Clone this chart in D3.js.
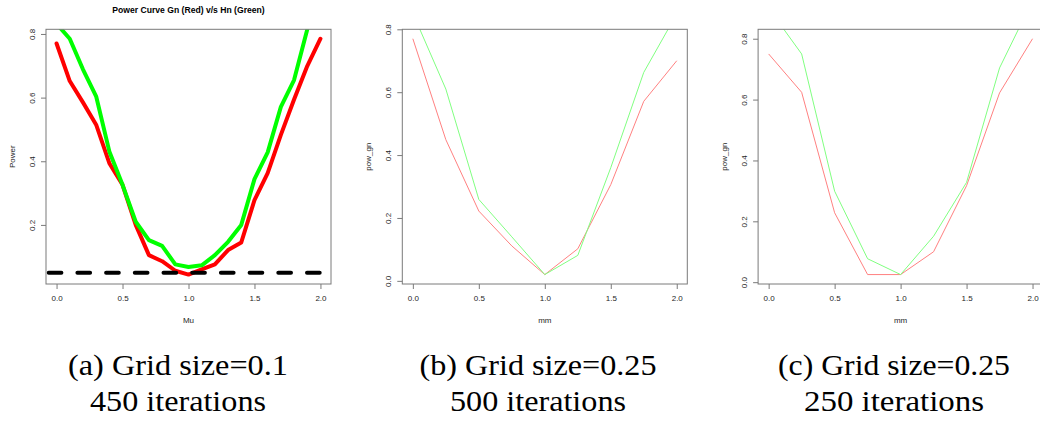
<!DOCTYPE html>
<html>
<head>
<meta charset="utf-8">
<script src="https://cdn.jsdelivr.net/npm/d3@7"></script>
<style>
  html, body { margin: 0; padding: 0; background: #fff; }
  svg { display: block; }
</style>
</head>
<body>
<svg id="chart" width="1040" height="422"></svg>
<script>
// ---------- data ----------
// Panel (a): grid size 0.1, 450 iterations
const muA = [0.0, 0.1, 0.2, 0.3, 0.4, 0.5, 0.6, 0.7, 0.8, 0.9, 1.0, 1.1, 1.2, 1.3, 1.4, 1.5, 1.6, 1.7, 1.8, 1.9, 2.0];
const powerGnA = [0.770, 0.652, 0.585, 0.515, 0.394, 0.326, 0.200, 0.105, 0.086, 0.056, 0.044, 0.060, 0.076, 0.121, 0.145, 0.278, 0.363, 0.483, 0.594, 0.699, 0.785];
const powerHnA = [0.832, 0.785, 0.689, 0.604, 0.431, 0.326, 0.210, 0.152, 0.134, 0.076, 0.068, 0.073, 0.105, 0.147, 0.200, 0.344, 0.428, 0.571, 0.655, 0.814, 0.980];
const alphaLevel = 0.05;

// Panel (b): grid size 0.25, 500 iterations
const mmB = [0.0, 0.25, 0.5, 0.75, 1.0, 1.25, 1.5, 1.75, 2.0];
const powGnB = [0.770, 0.449, 0.222, 0.111, 0.020, 0.102, 0.306, 0.571, 0.700];
const powHnB = [0.851, 0.610, 0.259, 0.140, 0.020, 0.081, 0.360, 0.663, 0.849];

// Panel (c): grid size 0.25, 250 iterations
const mmC = [0.0, 0.25, 0.5, 0.75, 1.0, 1.25, 1.5, 1.75, 2.0];
const powGnC = [0.750, 0.624, 0.228, 0.025, 0.025, 0.100, 0.317, 0.622, 0.800];
const powHnC = [0.900, 0.750, 0.299, 0.077, 0.025, 0.151, 0.328, 0.704, 0.926];

// ticks and labels
const xTicks = [0.0, 0.5, 1.0, 1.5, 2.0];
const yTicksA = [0.2, 0.4, 0.6, 0.8];
const yTicksBC = [0.0, 0.2, 0.4, 0.6, 0.8];
const titles = ["Power Curve Gn (Red) v/s Hn (Green)", "", ""];
const xLabels = ["Mu", "mm", "mm"];
const yLabels = ["Power", "pow_gn", "pow_gn"];
const captionLine1 = ["(a) Grid size=0.1", "(b) Grid size=0.25", "(c) Grid size=0.25"];
const captionLine2 = ["450 iterations", "500 iterations", "250 iterations"];

// ---------- layout / style ----------
const svg = d3.select("#chart");
const boxW = 285, boxTop = 29.3, boxBottom = 284;
const panelLefts = [46, 402.3, 758.1];
const captionCenters = [178, 538, 894];
const caption1Widths = [220, 237, 232];
const caption2Widths = [176, 176, 180];
const axisGray = "#7a7a7a";
const textCol = "#262626";
const sans = "'Liberation Sans', Arial, Helvetica, sans-serif";
const serif = "'Liberation Serif', 'Times New Roman', serif";

// R-style axis range: data extent padded 4% on each side
function rRange(vals) {
  const [lo, hi] = d3.extent(vals);
  const p = (hi - lo) * 0.04;
  return [lo - p, hi + p];
}

const panels = [
  { x: muA, gn: powerGnA, hn: powerHnA, yTicks: yTicksA, thick: true },
  { x: mmB, gn: powGnB, hn: powHnB, yTicks: yTicksBC, thick: false },
  { x: mmC, gn: powGnC, hn: powHnC, yTicks: yTicksBC, thick: false }
];

panels.forEach((p, i) => {
  const left = panelLefts[i];
  const xs = d3.scaleLinear().domain(rRange(p.x)).range([left, left + boxW]);
  const ys = d3.scaleLinear().domain(rRange(p.gn)).range([boxBottom, boxTop]);
  const g = svg.append("g");

  // clip path to plot region
  const clipId = "clip" + i;
  svg.append("clipPath").attr("id", clipId)
    .append("rect").attr("x", left).attr("y", boxTop)
    .attr("width", boxW).attr("height", boxBottom - boxTop);

  const line = d3.line().x((d, k) => xs(p.x[k])).y(d => ys(d));
  const plot = g.append("g").attr("clip-path", `url(#${clipId})`);

  if (p.thick) {
    plot.append("path").datum(p.gn).attr("d", line)
      .attr("fill", "none").attr("stroke", "#ff0000").attr("stroke-width", 4)
      .attr("stroke-linejoin", "round").attr("stroke-linecap", "round");
    plot.append("path").datum(p.hn).attr("d", line)
      .attr("fill", "none").attr("stroke", "#00ff00").attr("stroke-width", 4)
      .attr("stroke-linejoin", "round").attr("stroke-linecap", "round");
    // dashed alpha level line
    plot.append("line")
      .attr("x1", xs.range()[0] + 2.7).attr("x2", xs.range()[1])
      .attr("y1", ys(alphaLevel)).attr("y2", ys(alphaLevel))
      .attr("stroke", "#000").attr("stroke-width", 4)
      .attr("stroke-linecap", "round").attr("stroke-dasharray", "12.7,16");
  } else {
    plot.append("path").datum(p.gn).attr("d", line)
      .attr("fill", "none").attr("stroke", "#ff8080").attr("stroke-width", 1)
      .attr("stroke-linejoin", "round");
    plot.append("path").datum(p.hn).attr("d", line)
      .attr("fill", "none").attr("stroke", "#80ff80").attr("stroke-width", 1)
      .attr("stroke-linejoin", "round");
  }

  // box
  g.append("rect").attr("x", left).attr("y", boxTop)
    .attr("width", boxW).attr("height", boxBottom - boxTop)
    .attr("fill", "none").attr("stroke", axisGray).attr("stroke-width", 1);

  // x axis
  const xAxis = g.append("g").attr("transform", `translate(0,${boxBottom})`)
    .call(d3.axisBottom(xs).tickValues(xTicks).tickFormat(d3.format(".1f"))
      .tickSize(5).tickPadding(6));
  xAxis.select(".domain").remove();
  xAxis.selectAll(".tick line").attr("stroke", axisGray);
  xAxis.selectAll(".tick text").attr("fill", textCol)
    .style("font-family", sans).style("font-size", "8px");

  // y axis
  const yAxis = g.append("g").attr("transform", `translate(${left},0)`)
    .call(d3.axisLeft(ys).tickValues(p.yTicks).tickFormat(d3.format(".1f"))
      .tickSize(5).tickPadding(0));
  yAxis.select(".domain").remove();
  yAxis.selectAll(".tick line").attr("stroke", axisGray);
  yAxis.selectAll(".tick text")
    .attr("x", null).attr("dy", null)
    .attr("transform", "translate(-13.7,0) rotate(-90)")
    .attr("text-anchor", "middle").attr("dominant-baseline", "central")
    .attr("fill", textCol)
    .style("font-family", sans).style("font-size", "8px");

  // axis titles
  g.append("text").attr("x", left + boxW / 2).attr("y", 323)
    .attr("text-anchor", "middle").attr("fill", textCol)
    .style("font-family", sans).style("font-size", "8px").text(xLabels[i]);
  g.append("text")
    .attr("transform", `translate(${left - 34},${(boxTop + boxBottom) / 2}) rotate(-90)`)
    .attr("text-anchor", "middle").attr("dominant-baseline", "central")
    .attr("fill", textCol)
    .style("font-family", sans).style("font-size", "8px").text(yLabels[i]);

  if (titles[i]) {
    g.append("text").attr("x", left + boxW / 2).attr("y", 13)
      .attr("text-anchor", "middle").attr("fill", "#000")
      .style("font-family", sans).style("font-size", "8.6px").style("font-weight", "bold")
      .text(titles[i]);
  }

  // captions
  svg.append("text").attr("x", captionCenters[i]).attr("y", 375)
    .attr("text-anchor", "middle").attr("fill", "#000")
    .attr("textLength", caption1Widths[i]).attr("lengthAdjust", "spacingAndGlyphs")
    .style("font-family", serif).style("font-size", "30px")
    .text(captionLine1[i]);
  svg.append("text").attr("x", captionCenters[i]).attr("y", 411)
    .attr("text-anchor", "middle").attr("fill", "#000")
    .attr("textLength", caption2Widths[i]).attr("lengthAdjust", "spacingAndGlyphs")
    .style("font-family", serif).style("font-size", "30px")
    .text(captionLine2[i]);
});
</script>
</body>
</html>
